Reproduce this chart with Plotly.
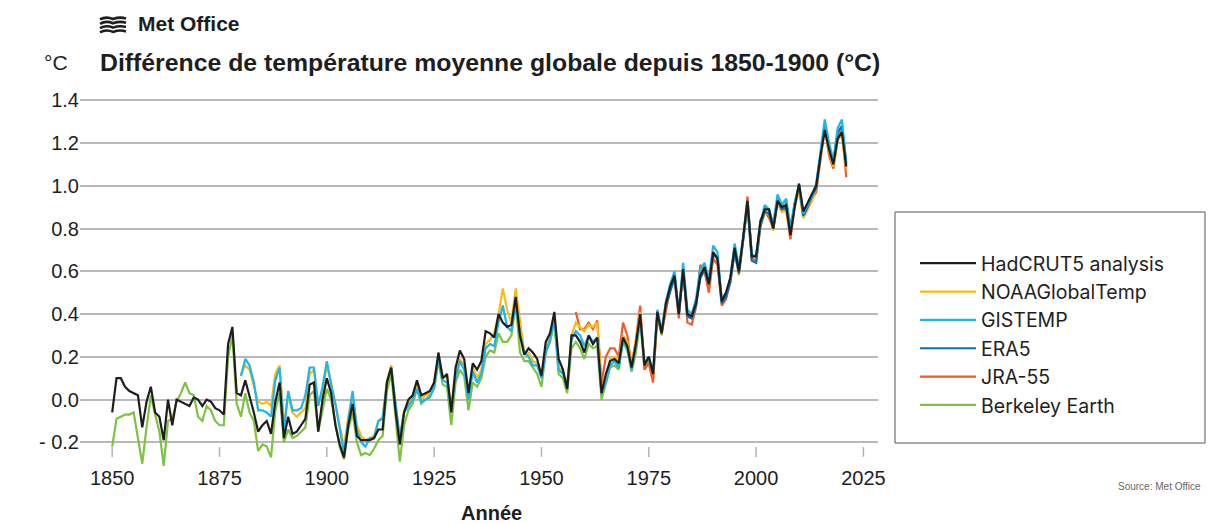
import plotly.graph_objects as go

# ---------------- data ----------------
years_hadcrut = list(range(1850, 2022))
hadcrut5 = [
    -0.06, 0.10, 0.10, 0.06, 0.04, 0.03, 0.02, -0.13, -0.01, 0.06,
    -0.06, -0.08, -0.19, 0.00, -0.12, 0.00, -0.01, -0.02, -0.03, 0.01,
    0.00, -0.03, 0.00, -0.01, -0.04, -0.05, -0.07, 0.26, 0.34, 0.03,
    0.02, 0.09, 0.02, -0.06, -0.15, -0.12, -0.10, -0.16, -0.01, 0.08,
    -0.18, -0.08, -0.16, -0.15, -0.12, -0.09, 0.07, 0.08, -0.15, 0.00,
    0.10, 0.03, -0.12, -0.21, -0.27, -0.12, -0.02, -0.17, -0.19, -0.19,
    -0.19, -0.18, -0.14, -0.14, 0.08, 0.15, -0.05, -0.21, -0.06, 0.00,
    0.02, 0.09, 0.02, 0.03, 0.04, 0.08, 0.22, 0.10, 0.12, -0.06,
    0.15, 0.23, 0.19, 0.03, 0.17, 0.14, 0.18, 0.32, 0.31, 0.29,
    0.40, 0.36, 0.34, 0.35, 0.48, 0.30, 0.21, 0.24, 0.22, 0.19,
    0.11, 0.27, 0.31, 0.41, 0.19, 0.14, 0.05, 0.30, 0.30, 0.27,
    0.22, 0.30, 0.26, 0.29, 0.03, 0.12, 0.18, 0.19, 0.17, 0.29,
    0.25, 0.15, 0.26, 0.40, 0.16, 0.20, 0.12, 0.41, 0.31, 0.45,
    0.53, 0.58, 0.40, 0.61, 0.40, 0.39, 0.45, 0.58, 0.62, 0.54,
    0.69, 0.66, 0.46, 0.50, 0.57, 0.71, 0.60, 0.76, 0.93, 0.67,
    0.67, 0.83, 0.89, 0.89, 0.80, 0.93, 0.90, 0.91, 0.77, 0.90,
    1.01, 0.88, 0.92, 0.96, 1.00, 1.14, 1.26, 1.17, 1.10, 1.22,
    1.25, 1.09,
]

years_noaa = list(range(1880, 2022))
noaa = [
    0.12, 0.16, 0.14, 0.07, -0.01, -0.02, -0.01, -0.03, 0.12, 0.16,
    -0.12, 0.02, -0.06, -0.08, -0.06, -0.04, 0.12, 0.14, -0.02, 0.03,
    0.16, 0.08, -0.02, -0.12, -0.22, -0.08, 0.02, -0.12, -0.17, -0.19,
    -0.18, -0.17, -0.10, -0.08, 0.09, 0.16, -0.02, -0.18, -0.05, -0.02,
    0.02, 0.07, 0.00, 0.02, 0.03, 0.08, 0.20, 0.11, 0.10, -0.03,
    0.13, 0.19, 0.16, 0.02, 0.15, 0.10, 0.14, 0.26, 0.28, 0.31,
    0.40, 0.52, 0.42, 0.36, 0.52, 0.36, 0.22, 0.22, 0.18, 0.17,
    0.12, 0.24, 0.29, 0.39, 0.15, 0.13, 0.07, 0.30, 0.36, 0.34,
    0.32, 0.35, 0.34, 0.36, 0.06, 0.10, 0.19, 0.20, 0.18, 0.30,
    0.27, 0.16, 0.27, 0.41, 0.17, 0.20, 0.12, 0.41, 0.32, 0.46,
    0.52, 0.58, 0.40, 0.60, 0.39, 0.38, 0.44, 0.60, 0.62, 0.54,
    0.68, 0.66, 0.45, 0.48, 0.55, 0.70, 0.58, 0.74, 0.91, 0.65,
    0.64, 0.81, 0.87, 0.87, 0.79, 0.92, 0.88, 0.88, 0.78, 0.90,
    0.98, 0.85, 0.89, 0.93, 0.99, 1.12, 1.26, 1.16, 1.09, 1.21,
    1.24, 1.08,
]

years_gistemp = list(range(1880, 2022))
gistemp = [
    0.11, 0.19, 0.16, 0.08, -0.05, -0.05, -0.06, -0.08, 0.09, 0.15,
    -0.15, 0.04, -0.05, -0.05, -0.04, 0.02, 0.15, 0.15, -0.03, 0.06,
    0.18, 0.07, -0.02, -0.14, -0.25, -0.10, 0.04, -0.14, -0.20, -0.22,
    -0.18, -0.18, -0.10, -0.09, 0.08, 0.15, -0.02, -0.18, -0.06, -0.03,
    0.00, 0.05, -0.01, 0.00, 0.01, 0.06, 0.19, 0.09, 0.08, -0.04,
    0.10, 0.18, 0.14, 0.00, 0.13, 0.08, 0.12, 0.24, 0.26, 0.25,
    0.36, 0.44, 0.34, 0.32, 0.45, 0.31, 0.22, 0.20, 0.16, 0.16,
    0.10, 0.22, 0.28, 0.38, 0.14, 0.12, 0.06, 0.28, 0.32, 0.30,
    0.25, 0.30, 0.27, 0.29, 0.03, 0.08, 0.16, 0.18, 0.15, 0.28,
    0.24, 0.14, 0.25, 0.38, 0.17, 0.20, 0.13, 0.42, 0.32, 0.46,
    0.54, 0.60, 0.41, 0.64, 0.42, 0.40, 0.47, 0.61, 0.64, 0.56,
    0.72, 0.69, 0.47, 0.50, 0.57, 0.73, 0.62, 0.75, 0.93, 0.68,
    0.67, 0.82, 0.91, 0.89, 0.82, 0.96, 0.91, 0.94, 0.81, 0.92,
    1.01, 0.87, 0.91, 0.95, 1.01, 1.15, 1.31, 1.20, 1.12, 1.27,
    1.31, 1.10,
]

years_era5 = list(range(1979, 2022))
era5 = [
    0.44,
    0.51, 0.57, 0.40, 0.60, 0.39, 0.38, 0.44, 0.57, 0.61, 0.54,
    0.68, 0.66, 0.45, 0.48, 0.55, 0.69, 0.59, 0.74, 0.91, 0.65,
    0.64, 0.81, 0.88, 0.87, 0.80, 0.93, 0.89, 0.90, 0.78, 0.92,
    1.00, 0.86, 0.90, 0.95, 0.99, 1.14, 1.29, 1.18, 1.11, 1.25,
    1.28, 1.11,
]

years_jra55 = list(range(1958, 2022))
jra55 = [
    0.41, 0.33,
    0.33, 0.36, 0.33, 0.37, 0.08, 0.20, 0.24, 0.24, 0.20, 0.36,
    0.30, 0.16, 0.28, 0.44, 0.14, 0.17, 0.08, 0.40, 0.31, 0.42,
    0.52, 0.56, 0.38, 0.62, 0.36, 0.35, 0.43, 0.63, 0.60, 0.50,
    0.66, 0.63, 0.44, 0.47, 0.55, 0.70, 0.60, 0.76, 0.95, 0.66,
    0.65, 0.84, 0.88, 0.85, 0.80, 0.92, 0.88, 0.89, 0.75, 0.91,
    0.99, 0.85, 0.89, 0.94, 0.97, 1.12, 1.28, 1.14, 1.08, 1.22,
    1.26, 1.04,
]

years_berkeley = list(range(1850, 2022))
berkeley = [
    -0.22, -0.09, -0.08, -0.07, -0.07, -0.06, -0.18, -0.30, -0.13, 0.02,
    -0.07, -0.15, -0.31, -0.10, -0.09, -0.01, 0.03, 0.08, 0.03, 0.02,
    -0.08, -0.10, -0.03, -0.05, -0.10, -0.12, -0.12, 0.20, 0.30, -0.02,
    -0.08, 0.03, -0.06, -0.10, -0.24, -0.21, -0.22, -0.27, -0.05, 0.03,
    -0.20, -0.14, -0.18, -0.17, -0.15, -0.13, 0.02, 0.04, -0.15, -0.05,
    0.05, 0.00, -0.12, -0.22, -0.28, -0.14, -0.06, -0.20, -0.26, -0.25,
    -0.26, -0.23, -0.19, -0.17, 0.04, 0.12, -0.08, -0.29, -0.12, -0.05,
    -0.02, 0.05, -0.02, 0.00, 0.02, 0.05, 0.18, 0.07, 0.06, -0.12,
    0.08, 0.14, 0.11, -0.05, 0.08, 0.06, 0.10, 0.20, 0.23, 0.22,
    0.31, 0.27, 0.27, 0.30, 0.45, 0.22, 0.18, 0.18, 0.15, 0.12,
    0.06, 0.22, 0.27, 0.36, 0.12, 0.10, 0.03, 0.24, 0.27, 0.24,
    0.19, 0.26, 0.24, 0.25, 0.00, 0.08, 0.15, 0.16, 0.14, 0.27,
    0.23, 0.13, 0.22, 0.37, 0.14, 0.19, 0.10, 0.39, 0.30, 0.44,
    0.52, 0.58, 0.40, 0.61, 0.39, 0.38, 0.45, 0.57, 0.60, 0.52,
    0.68, 0.66, 0.46, 0.49, 0.56, 0.70, 0.59, 0.75, 0.92, 0.67,
    0.67, 0.83, 0.89, 0.89, 0.81, 0.95, 0.91, 0.93, 0.79, 0.91,
    1.00, 0.87, 0.91, 0.96, 1.00, 1.14, 1.28, 1.18, 1.11, 1.24,
    1.27, 1.10,
]

x_ticks = [1850, 1875, 1900, 1925, 1950, 1975, 2000, 2025]
y_ticks = [-0.2, 0.0, 0.2, 0.4, 0.6, 0.8, 1.0, 1.2, 1.4]
y_ticktext = ["- 0.2", "0.0", "0.2", "0.4", "0.6", "0.8", "1.0", "1.2", "1.4"]

# ---------------- figure ----------------
FONT = "Liberation Sans, Arial, sans-serif"
LEGFONT = "Inter, Liberation Sans, sans-serif"
W, H = 1218, 524
OFF = 8  # page body margin: figure is drawn 8px right/down of the page corner
PW, PH = 798, 372
ML = 80 - OFF
MT = 96 - OFF
MR = W - ML - PW
MB = H - MT - PH


def px(xp):
    """page x pixel -> paper coordinate"""
    return (xp - OFF - ML) / PW


def py(yp):
    """page y pixel -> paper coordinate"""
    return (MT + PH - (yp - OFF)) / PH


series = [
    # name, x, y, color, legend rank (draw order = list order)
    ("Berkeley Earth", years_berkeley, berkeley, "#7DC242", 6),
    ("JRA-55", years_jra55, jra55, "#F15A29", 5),
    ("NOAAGlobalTemp", years_noaa, noaa, "#FDB913", 2),
    ("ERA5", years_era5, era5, "#0B6DB7", 4),
    ("GISTEMP", years_gistemp, gistemp, "#1CB5EE", 3),
    ("HadCRUT5 analysis", years_hadcrut, hadcrut5, "#1E1E1E", 1),
]

fig = go.Figure()
for name, xs, ys, col, rank in series:
    fig.add_trace(go.Scatter(
        x=xs, y=ys, mode="lines", name=name,
        line=dict(color=col, width=2.2),
        legendrank=rank,
    ))

shapes = []
# x tick marks (short grey dashes under the lowest gridline)
for t in x_ticks:
    shapes.append(dict(type="line", xref="x", yref="y", x0=t, x1=t,
                       y0=-0.222, y1=-0.268,
                       line=dict(color="#b5b5b5", width=1.5), layer="below"))
# legend frame
shapes.append(dict(type="rect", xref="paper", yref="paper",
                   x0=px(895), x1=px(1205), y0=py(443), y1=py(212),
                   line=dict(color="#555555", width=1), fillcolor="rgba(0,0,0,0)"))
# Met Office logo: four parallel wavy strokes
for k in range(4):
    y0 = 17.5 + k * 4.3
    pts = [(100, y0 + 2.0), (106, y0 - 1.5), (113, y0 + 1.5), (120, y0 - 1.0), (126, y0 + 1.0), (131, y0 - 1.5)]
    d = "M {:.5f},{:.5f}".format(px(pts[0][0]), py(pts[0][1]))
    for i in range(1, len(pts) - 1, 2):
        d += " Q {:.5f},{:.5f} {:.5f},{:.5f}".format(px(pts[i][0]), py(pts[i][1]),
                                                     px(pts[i + 1][0]), py(pts[i + 1][1]))
    shapes.append(dict(type="path", xref="paper", yref="paper", path=d,
                       line=dict(color="#1E1E1E", width=2.6)))

annotations = [
    dict(text="<b>Met Office</b>", x=px(136), y=py(24), xref="paper", yref="paper",
         xanchor="left", yanchor="middle", showarrow=False,
         font=dict(family=FONT, size=21, color="#1E1E1E")),
    dict(text="°C", x=px(42), y=py(62), xref="paper", yref="paper",
         xanchor="left", yanchor="middle", showarrow=False,
         font=dict(family=FONT, size=21, color="#1E1E1E")),
    dict(text="<b>Différence de température moyenne globale depuis 1850-1900 (°C)</b>",
         x=px(98), y=py(62), xref="paper", yref="paper",
         xanchor="left", yanchor="middle", showarrow=False,
         font=dict(family=FONT, size=24.8, color="#1E1E1E")),
    dict(text="<b>Année</b>", x=px(491), y=py(513), xref="paper", yref="paper",
         xanchor="center", yanchor="middle", showarrow=False,
         font=dict(family=FONT, size=20, color="#1E1E1E")),
    dict(text="Source: Met Office", x=px(1203), y=py(486), xref="paper", yref="paper",
         xanchor="right", yanchor="middle", showarrow=False,
         font=dict(family=FONT, size=10, color="#666666")),
]

fig.update_layout(
    width=W, height=H,
    margin=dict(l=ML, r=MR, t=MT, b=MB, autoexpand=False),
    paper_bgcolor="white", plot_bgcolor="white",
    font=dict(family=FONT, color="#1E1E1E"),
    showlegend=True,
    legend=dict(
        x=px(915), y=py(244), xanchor="left", yanchor="top",
        bgcolor="rgba(0,0,0,0)", borderwidth=0,
        font=dict(family=LEGFONT, size=19.5, color="#1E1E1E"),
        itemwidth=56, traceorder="normal",
    ),
    xaxis=dict(
        range=[1842.5, 2028.4], tickmode="array", tickvals=x_ticks,
        showgrid=False, zeroline=False, showline=False, ticks="",
        tickfont=dict(family=FONT, size=20, color="#1E1E1E"),
        ticklabelstandoff=-4,
        fixedrange=True,
    ),
    yaxis=dict(
        range=[-0.32, 1.42], tickmode="array", tickvals=y_ticks, ticktext=y_ticktext,
        showgrid=True, gridcolor="#b9b9b9", gridwidth=1.5, zeroline=False,
        showline=False, ticks="",
        tickfont=dict(family=FONT, size=20, color="#1E1E1E"),
        fixedrange=True,
    ),
    shapes=shapes,
    annotations=annotations,
)

fig.write_html("out.html")
